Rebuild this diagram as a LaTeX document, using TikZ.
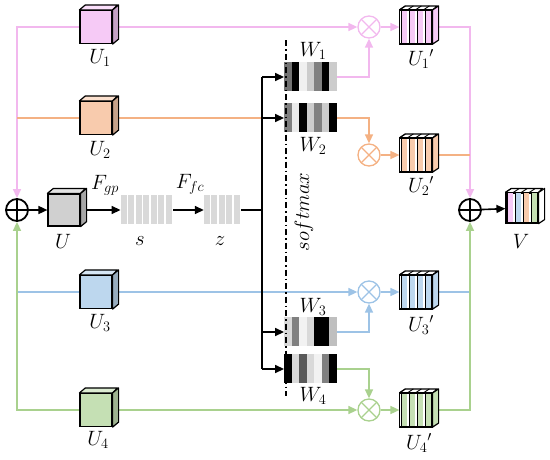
\documentclass[tikz,border=0pt]{standalone}
\usepackage{tikz}
\usetikzlibrary{arrows.meta, calc, backgrounds}

\definecolor{pkl}{RGB}{242,184,238}
\definecolor{pkf}{RGB}{246,202,246}
\definecolor{orl}{RGB}{244,177,131}
\definecolor{orf}{RGB}{248,203,173}
\definecolor{bll}{RGB}{157,195,230}
\definecolor{blf}{RGB}{189,215,238}
\definecolor{grl}{RGB}{169,209,142}
\definecolor{grf}{RGB}{197,224,180}
\definecolor{gyf}{RGB}{208,208,208}
\definecolor{barf}{RGB}{217,217,217}

\begin{document}
\begin{tikzpicture}[x=1pt, y=-1pt,
  lbl/.style={font=\fontsize{20}{24}\selectfont, inner sep=0pt},
  cube/.style={draw, line width=1.2pt, minimum width=32pt, minimum height=33pt, inner sep=0pt},
  bar/.style={minimum width=52.5pt, minimum height=29pt, inner sep=0pt},
  mul/.style={circle, draw=#1, line width=1.3pt, minimum size=22pt, inner sep=0pt,
    path picture={\draw[#1, line width=1.3pt]
      (path picture bounding box.north west) -- (path picture bounding box.south east)
      (path picture bounding box.north east) -- (path picture bounding box.south west);}},
  add/.style={circle, draw, line width=1.8pt, minimum size=22pt, inner sep=0pt,
    path picture={\draw[line width=1.8pt]
      (path picture bounding box.north) -- (path picture bounding box.south)
      (path picture bounding box.east) -- (path picture bounding box.west);}},
  link/.style={line width=1.6pt},
  tip/.style={-{Triangle[length=9pt,width=8pt]}}
]
\useasboundingbox (0,0) rectangle (550,459);

% input branches
\node[cube, fill=pkf] (u1) at (96,27) {};
\node[cube, fill=orf] (u2) at (96,118) {};
\node[cube, fill=blf] (u3) at (96,292) {};
\node[cube, fill=grf] (u4) at (96,410) {};
\node[lbl] (lu1) at (100,58) {$U_1$};
\node[lbl] (lu2) at (100,150) {$U_2$};
\node[lbl] (lu3) at (100,323) {$U_3$};
\node[lbl] (lu4) at (98,440) {$U_4$};

% fuse and squeeze
\node[add] (addl) at (17,210) {};
\node[cube, fill=gyf, minimum height=32pt] (u) at (64,210) {};
\node[bar] (s) at (147,210) {};
\node[bar, minimum width=37pt] (z) at (222.5,210) {};
\node[lbl] (lu) at (63,241) {$U$};
\node[lbl] (ls) at (140,241) {$s$};
\node[lbl] (lz) at (220,241) {$z$};
\node[lbl] (lfgp) at (105,185) {$F_{gp}$};
\node[lbl] (lffc) at (190,184) {$F_{fc}$};
\coordinate (tr) at (262,77);

% attention weights
\node[bar] (w1) at (310.5,77) {};
\node[bar] (w2) at (310.5,118) {};
\node[bar] (w3) at (310.5,332) {};
\node[bar] (w4) at (310.5,369) {};
\node[lbl] (lw1) at (313,51) {$W_1$};
\node[lbl] (lw2) at (313,146) {$W_2$};
\node[lbl] (lw3) at (313,307) {$W_3$};
\node[lbl] (lw4) at (313,396) {$W_4$};
\node[lbl, rotate=90] (smx) at (304,212) {$softmax$};
\coordinate (sm1) at (286,40);
\coordinate (sm2) at (286,396);

% select
\node[mul=pkl] (m1) at (369,27) {};
\node[mul=orl] (m2) at (369,155) {};
\node[mul=bll] (m3) at (369,292) {};
\node[mul=grl] (m4) at (369,410) {};
\node[cube, fill=pkf] (u1p) at (416,27) {};
\node[cube, fill=orf] (u2p) at (416,155) {};
\node[cube, fill=blf] (u3p) at (416,292) {};
\node[cube, fill=grf] (u4p) at (416,410) {};
\node[lbl] (lu1p) at (421,59) {$U_1{}'$};
\node[lbl] (lu2p) at (421,186) {$U_2{}'$};
\node[lbl] (lu3p) at (421,325) {$U_3{}'$};
\node[lbl] (lu4p) at (419,443) {$U_4{}'$};
\node[add] (addr) at (470,210) {};
\node[cube, fill=white, minimum height=30pt] (v) at (522,208) {};
\node[lbl] (lv) at (521,241) {$V$};

% cube faces
\foreach \n/\c in {u1/pkf, u2/orf, u3/blf, u4/grf, u/gyf} {
  \filldraw[line width=1.2pt, line join=round, fill=\c!60!white] (\n.north west) -- ++(6,-5) -- ++(32,0) -- (\n.north east) -- cycle;
  \filldraw[line width=1.2pt, line join=round, fill=\c!80!black] (\n.north east) -- ++(6,-5) -- ($(\n.south east)+(6,-5)$) -- (\n.south east) -- cycle;
}

% sliced blocks
\foreach \n/\c in {u1p/pkf, u2p/orf, u3p/blf, u4p/grf} {
  \foreach \k in {0,...,3} {
    \fill[white] ($(\n.north west)+(\k*8,0)$) rectangle ++(2.5,33);
    \draw[line width=0.9pt] ($(\n.north west)+(\k*8+2.5,0)$) -- ++(0,33);
    \draw[line width=0.9pt] ($(\n.north west)+(\k*8,0)$) -- ++(6,-4);
  }
  \draw[line width=1.2pt, line join=round] (\n.north west) -- ++(6,-4) -- ++(32,0) -- (\n.north east);
  \filldraw[line width=1.2pt, line join=round, fill=\c] (\n.north east) -- ++(6,-4) -- ($(\n.south east)+(6,-4)$) -- (\n.south east) -- cycle;
  \draw[line width=1.2pt] (\n.north west) rectangle (\n.south east);
}
\foreach \c [count=\k from 0] in {pkf, blf, orf, grf} {
  \fill[\c] ($(v.north west)+(\k*8+2.5,0)$) rectangle ++(5.5,30);
  \draw[line width=0.9pt] ($(v.north west)+(\k*8+2.5,0)$) -- ++(0,30);
  \draw[line width=0.9pt] ($(v.north west)+(\k*8,0)$) -- ++(6,-4);
}
\draw[line width=1.2pt, line join=round] (v.north west) -- ++(6,-4) -- ++(31,0) -- (v.north east);
\filldraw[line width=1.2pt, line join=round, fill=white] (v.north east) -- ++(6,-4) -- ($(v.south east)+(6,-4)$) -- (v.south east) -- cycle;
\draw[line width=1.2pt] (v.north west) rectangle (v.south east);

% bars
\foreach \k in {0,...,6}
  \fill[barf] ($(s.north west)+(\k*7.5,0)$) rectangle ++(6,29);
\foreach \k in {0,...,4}
  \fill[barf] ($(z.north west)+(\k*7.5,0)$) rectangle ++(6,29);
\foreach \n/\l in {w1/{55,100,6,20,50,100,20}, w2/{50,8,100,20,50,20,100},
                   w3/{15,50,5,15,100,100,25}, w4/{100,15,65,15,5,50,100}} {
  \foreach \g [count=\i from 0] in \l
    \fill[black!\g] ($(\n.north west)+(\i*7.5,0)$) rectangle ++(7.5,29);
}
\draw[dash pattern=on 6pt off 3pt on 1.5pt off 3pt, line width=1.3pt] (sm1) -- (sm2);

% connectors
\begin{scope}[on background layer]
\draw[link, pkl, tip] (u1.west) -| (addl);
\draw[link, pkl, tip] (u1.east) -- (m1);
\draw[link, pkl, tip] (w1.east) -| (m1);
\draw[link, pkl, tip] (m1) -- (u1p);
\draw[link, pkl, tip] (u1p.east) -| (addr);
\draw[link, orl] (u2.west) -- (u2.west -| addl);
\draw[link, orl] (u2.east) -- (u2.east -| tr);
\draw[link, orl, tip] (w2.east) -| (m2);
\draw[link, orl, tip] (m2) -- (u2p);
\draw[link, orl] (u2p.east) -- (u2p.east -| addr);
\draw[link, bll] (u3.west) -- (u3.west -| addl);
\draw[link, bll, tip] (u3.east) -- (m3);
\draw[link, bll, tip] (w3.east) -| (m3);
\draw[link, bll, tip] (m3) -- (u3p);
\draw[link, bll] (u3p.east) -- (u3p.east -| addr);
\draw[link, grl, tip] (u4.west) -| (addl);
\draw[link, grl, tip] (u4.east) -- (m4);
\draw[link, grl, tip] (w4.east) -| (m4);
\draw[link, grl, tip] (m4) -- (u4p);
\draw[link, grl, tip] (u4p.east) -| (addr);
\draw[link, tip] (addl) -- (u);
\draw[link, tip] (u) -- (s);
\draw[link, tip] (s) -- (z);
\draw[link] (z) -- (z -| tr);
\draw[link] (tr) -- (tr |- w4);
\foreach \n in {w1,w2,w3,w4}
  \draw[link, tip] (\n -| tr) -- (\n);
\draw[link, tip] (addr) -- (v);
\end{scope}
\end{tikzpicture}
\end{document}
